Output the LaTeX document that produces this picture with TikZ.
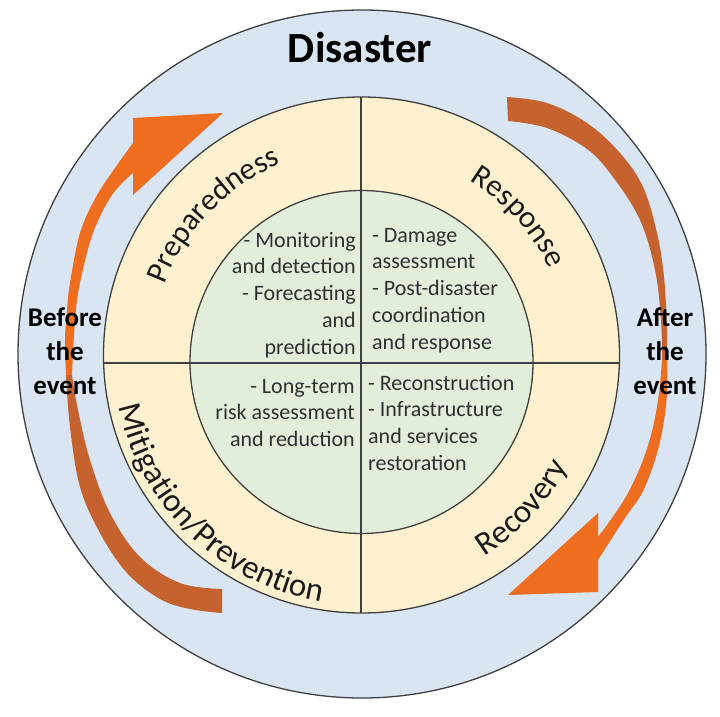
\documentclass[tikz,border=0pt]{standalone}
\usepackage{fontspec}
\setmainfont{Carlito}
\usetikzlibrary{decorations.text}
\definecolor{ringblue}{HTML}{DAE5F4}
\definecolor{ringbeige}{HTML}{FFF1CF}
\definecolor{ringgreen}{HTML}{E2EEDA}
\definecolor{edgegray}{HTML}{404040}
\definecolor{tailbrown}{HTML}{C6622E}
\definecolor{headorange}{HTML}{EE6D1F}
\definecolor{txtgray}{HTML}{303030}
\definecolor{phaseblack}{HTML}{1A1A1A}
\newcommand\phasefont{\fontsize{31pt}{31pt}\selectfont}
\newcommand\phasefontbig{\fontsize{33pt}{33pt}\selectfont}
\newcommand\innerfont{\fontsize{22pt}{26.8pt}\selectfont}
\newcommand\sidefont{\bfseries\fontsize{27pt}{34pt}\selectfont}
\begin{document}
\begin{tikzpicture}[x=1pt,y=1pt,
  ring/.style={draw=edgegray, line width=1.3pt},
  crossline/.style={draw=edgegray, line width=1.2pt},
  phase/.style={decorate, decoration={text along path, text align=center, text color=phaseblack}},
  innertext/.style={inner sep=0pt, text=txtgray},
  sidetext/.style={inner sep=0pt, anchor=base, text=black}]
\useasboundingbox (0,0) rectangle (720,-717);
\fill[white] (0,0) rectangle (720,-717);
% outer ring
\filldraw[ring, fill=ringblue] (362,-354) circle[radius=344pt];
% left arrow: brown tail
\fill[tailbrown] plot[smooth, tension=0.6] coordinates {(222,-613) (190,-609) (160,-599) (127,-573) (100,-533) (80,-487) (70,-427) (66,-375)}
  -- plot[smooth, tension=0.6] coordinates {(72,-375) (78,-410) (90,-460) (110,-513) (140,-557) (180,-583) (222,-589)} -- cycle;
% left arrow: orange head part
\fill[headorange] plot[smooth, tension=0.6] coordinates {(66,-375) (65,-340) (67,-310) (70,-283) (80,-233) (96,-197) (115,-168) (133,-143)}
  -- (133,-118) -- (223,-113) -- (133,-195) -- (133,-173)
  -- plot[smooth, tension=0.6] coordinates {(133,-173) (112,-195) (93,-233) (80,-283) (75,-320) (72,-375)} -- cycle;
% right arrow: brown tail
\fill[tailbrown] plot[smooth, tension=0.6] coordinates {(507,-97) (547,-103) (587,-123) (620,-153) (643,-187) (657,-233) (664,-277) (667,-330) (667,-360)}
  -- plot[smooth, tension=0.6] coordinates {(662,-360) (661,-320) (655,-270) (640,-220) (613,-177) (587,-149) (547,-128) (508,-121)} -- cycle;
% right arrow: orange head part
\fill[headorange] plot[smooth, tension=0.6] coordinates {(667,-360) (667,-393) (663,-427) (655,-460) (642,-493) (625,-518) (598,-560)}
  -- (598,-592) -- (508,-595) -- (598,-513) -- (598,-537)
  -- plot[smooth, tension=0.6] coordinates {(598,-537) (612,-518) (628,-493) (643,-460) (653,-427) (659,-393) (662,-360)} -- cycle;
% beige ring and green core
\filldraw[ring, fill=ringbeige] (361.5,-355) circle[radius=258pt];
\filldraw[ring, fill=ringgreen] (361.5,-362) circle[radius=171.5pt];
% cross lines
\draw[crossline] (103.6,-363) -- (619.4,-363);
\draw[crossline] (361,-97) -- (361,-613);
% title
\node[anchor=base, inner sep=0pt] (title) at (360,-63) {\fontsize{43pt}{43pt}\selectfont\bfseries Disaster};
% side labels
\node[sidetext] (before) at (65,-326) {\sidefont\begin{tabular}[t]{@{}c@{}}Before\\the\\event\end{tabular}};
\node[sidetext] (after) at (665,-326) {\sidefont\begin{tabular}[t]{@{}c@{}}After\\the\\event\end{tabular}};
% phase labels on arcs
\coordinate (TC) at (361.5,-358);
\path[phase, decoration={text={|\phasefont|Preparedness}}] ([shift={(176:210pt)}]TC) arc[start angle=176, end angle=96, radius=210pt];
\path[phase, decoration={text={|\phasefont|Response}}] ([shift={(82:208pt)}]TC) arc[start angle=82, end angle=2, radius=208pt];
\path[phase, decoration={text={|\phasefontbig|Recovery}}] ([shift={(-83:233pt)}]TC) arc[start angle=-83, end angle=-3, radius=233pt];
\path[phase, decoration={text={|\phasefontbig|Mitigation/Prevention}}] ([shift={(176:247pt)}]TC) arc[start angle=176, end angle=276, radius=247pt];
% inner texts
\node[innertext, anchor=base east] (tl) at (356,-247) {\innerfont\begin{tabular}[t]{@{}r@{}}- Monitoring\\and detection\\- Forecasting\\and\\prediction\end{tabular}};
\node[innertext, anchor=base west] (tr) at (372,-242) {\innerfont\begin{tabular}[t]{@{}l@{}}- Damage\\assessment\\- Post-disaster\\coordination\\and response\end{tabular}};
\node[innertext, anchor=base west] (br) at (368,-390) {\innerfont\begin{tabular}[t]{@{}l@{}}- Reconstruction\\- Infrastructure\\and services\\restoration\end{tabular}};
\node[innertext, anchor=base east] (bl) at (355,-393) {\innerfont\begin{tabular}[t]{@{}r@{}}- Long-term\\risk assessment\\and reduction\end{tabular}};
\end{tikzpicture}
\end{document}
